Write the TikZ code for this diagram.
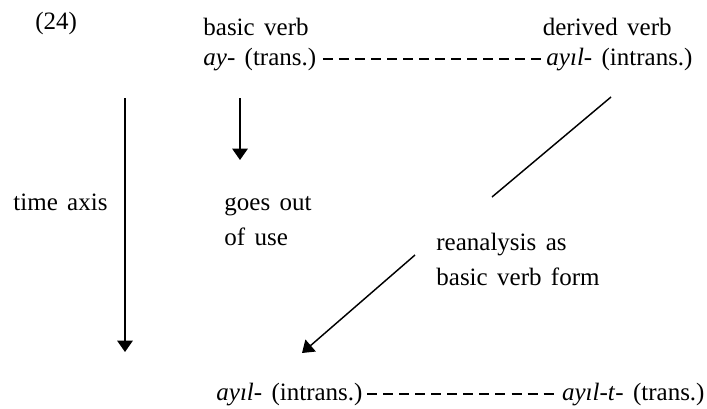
\documentclass[tikz,border=0pt]{standalone}
\usepackage{fontspec}
\setmainfont[WordSpace=1.5]{Liberation Serif}
\usetikzlibrary{arrows.meta,positioning}

\begin{document}
\begin{tikzpicture}[x=0.48pt,y=-0.48pt,
  txt/.style={inner sep=0pt, font=\fontsize{12}{16.8}\selectfont, align=left},
  arr/.style={-{Triangle[width=7.5pt,length=5.5pt]}, line width=0.7pt},
  ln/.style={line width=0.7pt},
  dsh/.style={line width=0.6pt, dash pattern=on 4.8pt off 2.9pt}
]
  \useasboundingbox (0,0) rectangle (707,408);

  % headings
  \node[txt, anchor=base west] (num) at (35,29) {(24)};
  \node[txt, anchor=base west] (bh) at (203,35) {basic verb};
  \node[txt, anchor=base east] (dh) at (672,35) {derived verb};

  % top row
  \node[txt, anchor=base west] (bv) at (203,65) {\textit{ay}- (trans.)};
  \node[txt, anchor=base east] (dv) at (693,65) {\textit{ayıl}- (intrans.)};
  \draw[dsh] ([xshift=3pt]bv.east) -- ([xshift=-1.5pt]dv.west);

  % bottom row
  \node[txt, anchor=base west] (bl) at (216,400) {\textit{ayıl}- (intrans.)};
  \node[txt, anchor=base east] (br) at (705,400) {\textit{ayıl-t}- (trans.)};
  \draw[dsh] ([xshift=2pt]bl.east) -- ([xshift=-1.5pt]br.west);

  % labels (base = last line)
  \node[txt, anchor=base west] (ta) at (13,210) {time axis};
  \node[txt, anchor=base west] (gu) at (224,245) {goes out\\of use};
  \node[txt, anchor=base west] (ra) at (436,285) {reanalysis as\\basic verb form};

  % arrows
  \coordinate (t1) at (125,98);  \coordinate (t2) at (125,352);
  \coordinate (g1) at (240,98);  \coordinate (g2) at (240,160);
  \coordinate (r1) at (611,97);  \coordinate (r2) at (492,197);
  \coordinate (r3) at (415,255); \coordinate (r4) at (302,353);
  \draw[arr] (t1) -- (t2);
  \draw[arr] (g1) -- (g2);
  \draw[ln] (r1) -- (r2);
  \draw[arr] (r3) -- (r4);
\end{tikzpicture}
\end{document}
